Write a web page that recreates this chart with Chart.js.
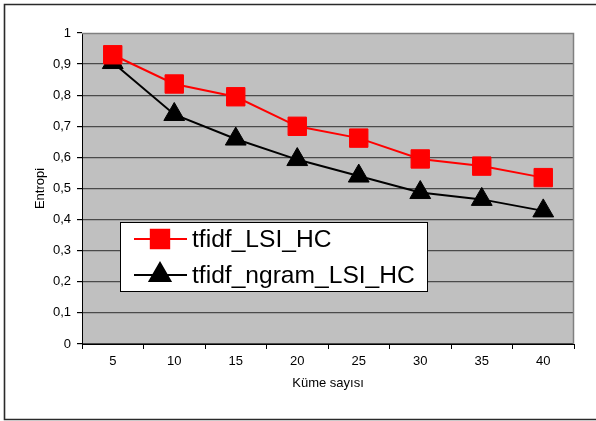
<!DOCTYPE html>
<html>
<head>
<meta charset="utf-8">
<script src="https://cdn.jsdelivr.net/npm/chart.js@4/dist/chart.umd.min.js"></script>
<style>
  html, body { margin: 0; padding: 0; background: #fff; }
  #wrap { width: 596px; height: 421px; }
</style>
</head>
<body>
<div id="wrap"><canvas id="chart" width="596" height="421"></canvas></div>
<script>
// --- data ---
const categories = ['5', '10', '15', '20', '25', '30', '35', '40'];
const lsiValues = [0.93, 0.836, 0.795, 0.70, 0.662, 0.595, 0.572, 0.535];
const ngramValues = [0.905, 0.738, 0.659, 0.593, 0.540, 0.487, 0.465, 0.428];
const seriesNames = ['tfidf_LSI_HC', 'tfidf_ngram_LSI_HC'];
const yTitle = 'Entropi';
const xTitle = 'Küme sayısı';

const FONT = "Arial, 'Liberation Sans', sans-serif";

// gray plot background + outer frame
const backdrop = {
  id: 'backdrop',
  beforeDraw(chart) {
    const { ctx, chartArea: a } = chart;
    ctx.save();
    ctx.fillStyle = '#C0C0C0';
    ctx.fillRect(a.left, a.top, a.right - a.left, a.bottom - a.top);
    ctx.strokeStyle = '#2a2a2a';
    ctx.lineWidth = 1.6;
    ctx.beginPath();
    ctx.moveTo(600, 4.5);
    ctx.lineTo(4.5, 4.5);
    ctx.lineTo(4.5, 419.5);
    ctx.lineTo(600, 419.5);
    ctx.stroke();
    ctx.restore();
  },
  beforeDatasetsDraw(chart) {
    const { ctx, chartArea: a } = chart;
    ctx.save();
    ctx.strokeStyle = '#808080';
    ctx.lineWidth = 1.5;
    ctx.beginPath();
    ctx.moveTo(a.left, a.top + 0.5);
    ctx.lineTo(a.right - 0.5, a.top + 0.5);
    ctx.lineTo(a.right - 0.5, a.bottom);
    ctx.stroke();
    ctx.restore();
  }
};

// legend box sitting inside the plot
const boxLegend = {
  id: 'boxLegend',
  afterDatasetsDraw(chart) {
    const ctx = chart.ctx;
    const box = { x: 120.5, y: 222.5, w: 307, h: 69 };
    ctx.save();
    ctx.fillStyle = '#fff';
    ctx.fillRect(box.x, box.y, box.w, box.h);
    ctx.strokeStyle = '#000';
    ctx.lineWidth = 1;
    ctx.strokeRect(box.x, box.y, box.w, box.h);
    chart.data.datasets.forEach((ds, i) => {
      const y = 239 + i * 36;
      ctx.strokeStyle = ds.borderColor;
      ctx.lineWidth = ds.borderWidth;
      ctx.beginPath();
      ctx.moveTo(134, y);
      ctx.lineTo(187, y);
      ctx.stroke();
      Chart.helpers.drawPoint(ctx, {
        pointStyle: ds.pointStyle, radius: ds.pointRadius, rotation: 0, borderWidth: 1
      }, 160, y);
      ctx.fillStyle = ds.pointBackgroundColor;
      ctx.fill();
      ctx.fillStyle = '#000';
      ctx.font = '24.6px ' + FONT;
      ctx.textBaseline = 'middle';
      ctx.fillText(ds.label, 192, y + 1);
    });
    ctx.restore();
  }
};

const fmt = v => {
  if (Math.abs(v) < 1e-9) return '0';
  if (Math.abs(v - 1) < 1e-9) return '1';
  return v.toFixed(1).replace('.', ',');
};

new Chart(document.getElementById('chart'), {
  type: 'line',
  data: {
    labels: categories,
    datasets: [{
      label: seriesNames[0], data: lsiValues,
      borderColor: '#FF0000', borderWidth: 2,
      pointStyle: 'rect', pointRadius: 13, pointHoverRadius: 13,
      pointBackgroundColor: '#FF0000', pointBorderColor: '#FF0000', pointBorderWidth: 1,
      tension: 0
    }, {
      label: seriesNames[1], data: ngramValues,
      borderColor: '#000000', borderWidth: 2,
      pointStyle: 'triangle', pointRadius: 12, pointHoverRadius: 12,
      pointBackgroundColor: '#000000', pointBorderColor: '#000000', pointBorderWidth: 1,
      tension: 0
    }]
  },
  options: {
    responsive: false,
    devicePixelRatio: 1,
    animation: false,
    clip: false,
    layout: { padding: { top: 33, right: 22, bottom: 0, left: 0 } },
    plugins: { legend: { display: false }, tooltip: { enabled: false } },
    scales: {
      x: {
        type: 'category',
        offset: true,
        afterFit: s => { s.height = 77; },
        grid: { offset: true, drawOnChartArea: false, tickLength: 5, tickColor: '#000' },
        border: { color: '#000', width: 1 },
        ticks: { color: '#000', font: { family: FONT, size: 13 }, padding: 5, maxRotation: 0 },
        title: { display: true, text: xTitle, color: '#000', font: { family: FONT, size: 13 }, padding: { top: 0, bottom: 30 } }
      },
      y: {
        min: 0, max: 1,
        afterFit: s => { s.width = 82; },
        grid: {
          color: c => (c.tick && Math.abs(c.tick.value - 1) < 1e-9) ? 'rgba(0,0,0,0)' : '#4a4a4a',
          lineWidth: 1.2, tickLength: 5, tickColor: '#000'
        },
        border: { color: '#000', width: 1 },
        ticks: { stepSize: 0.1, color: '#000', font: { family: FONT, size: 13 }, padding: 6, callback: fmt },
        title: { display: true, text: yTitle, color: '#000', font: { family: FONT, size: 13 }, padding: { top: 33, bottom: 0 } }
      }
    }
  },
  plugins: [backdrop, boxLegend]
});
</script>
</body>
</html>
